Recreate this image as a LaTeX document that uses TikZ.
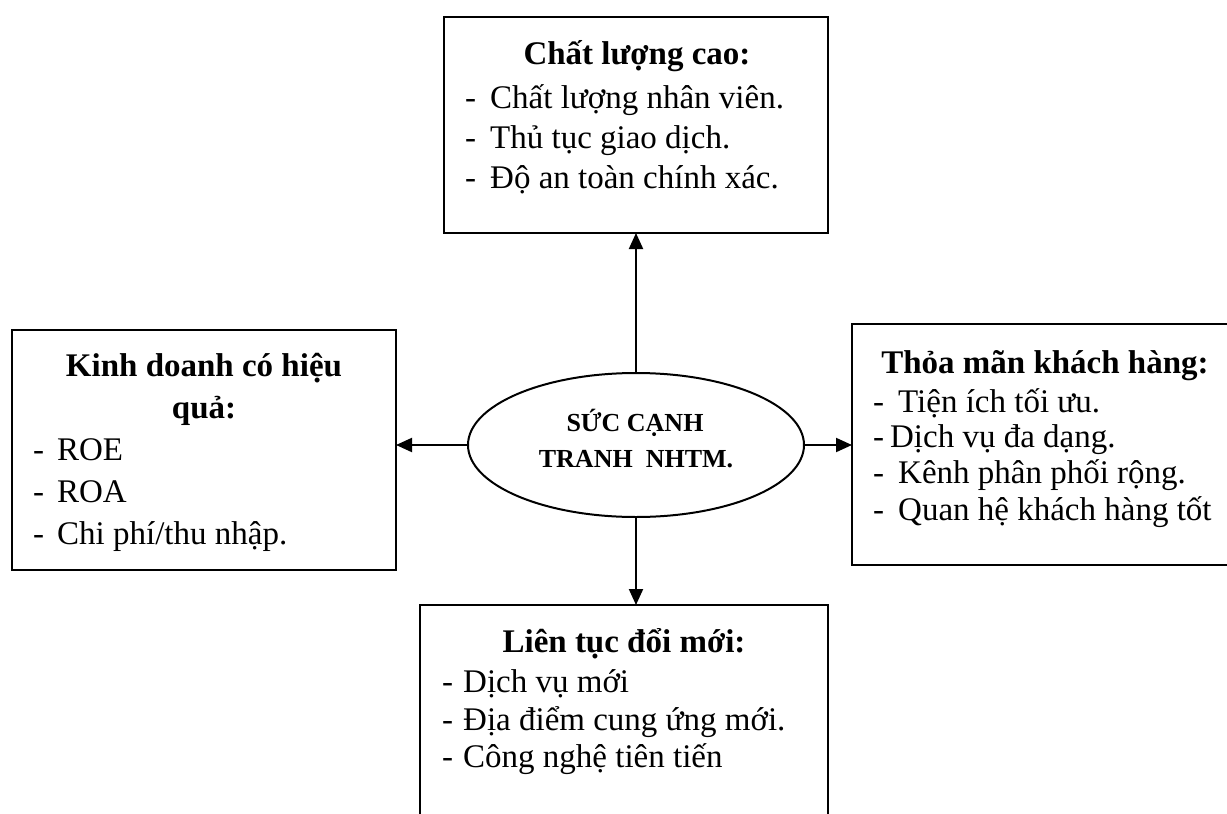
\documentclass[tikz,border=0pt]{standalone}
\usepackage{fontspec}
\setmainfont{Liberation Serif}
\usetikzlibrary{shapes.geometric,arrows.meta}
\begin{document}
\begin{tikzpicture}[x=1pt,y=-1pt,
  box/.style={draw,line width=2pt,rectangle,inner sep=0pt,outer sep=0pt},
  oval/.style={draw,line width=2pt,ellipse,inner sep=0pt,outer sep=0pt,minimum width=336pt,minimum height=144pt},
  arr/.style={line width=2pt,-{Triangle[length=16pt,width=14pt]}},
  hdr/.style={inner sep=0pt,anchor=base,font=\fontsize{33}{40}\selectfont\bfseries},
  txt/.style={inner sep=0pt,anchor=base west,font=\fontsize{33}{40}\selectfont},
  ctxt/.style={inner sep=0pt,anchor=base,font=\fontsize{26}{30}\selectfont\bfseries}]
\useasboundingbox (0,0) rectangle (1227,814);
\clip (0,0) rectangle (1227,814);
\fill[white] (0,0) rectangle (1227,814);
% boxes
\node[box,minimum width=384pt,minimum height=216pt] (top) at (636,125) {};
\node[box,minimum width=384pt,minimum height=240pt] (left) at (204,450) {};
\node[box,minimum width=388pt,minimum height=241pt] (right) at (1046,444.5) {};
\node[box,minimum width=408pt,minimum height=235pt] (bot) at (624,722.5) {};
\node[oval] (ell) at (636,445) {};
% connectors
\draw[arr] (ell.north) -- (top.south);
\draw[arr] (ell.south) -- (ell.south |- bot.north);
\draw[arr] (ell.west) -- (ell.west -| left.east);
\draw[arr] (ell.east) -- (ell.east -| right.west);
% centre text
\node[ctxt] (c1) at (635,431) {SỨC CẠNH};
\node[ctxt] (c2) at (636,467) {TRANH\ \ NHTM.};
% top box text
\node[hdr] (t0) at (637,64) {Chất lượng cao:};
\node[txt] (t1) at (465,108) {-\hspace{14pt}Chất lượng nhân viên.};
\node[txt] (t2) at (465,148) {-\hspace{14pt}Thủ tục giao dịch.};
\node[txt] (t3) at (465,188) {-\hspace{14pt}Độ an toàn chính xác.};
% left box text
\node[hdr] (l0) at (204,376) {Kinh doanh có hiệu};
\node[hdr] (l0b) at (204,418) {quả:};
\node[txt] (l1) at (33,460) {-\hspace{13pt}ROE};
\node[txt] (l2) at (33,502) {-\hspace{13pt}ROA};
\node[txt] (l3) at (33,544) {-\hspace{13pt}Chi phí/thu nhập.};
% right box text
\node[hdr] (r0) at (1045,373) {Thỏa mãn khách hàng:};
\node[txt] (r1) at (873,412) {-\hspace{14pt}Tiện ích tối ưu.};
\node[txt] (r2) at (873,447) {-\hspace{6pt}Dịch vụ đa dạng.};
\node[txt] (r3) at (873,483) {-\hspace{14pt}Kênh phân phối rộng.};
\node[txt] (r4) at (873,520) {-\hspace{14pt}Quan hệ khách hàng tốt};
% bottom box text
\node[hdr] (b0) at (624,652) {Liên tục đổi mới:};
\node[txt] (b1) at (442,692) {-\hspace{10pt}Dịch vụ mới};
\node[txt] (b2) at (442,730) {-\hspace{10pt}Địa điểm cung ứng mới.};
\node[txt] (b3) at (442,767) {-\hspace{10pt}Công nghệ tiên tiến};
\end{tikzpicture}
\end{document}
